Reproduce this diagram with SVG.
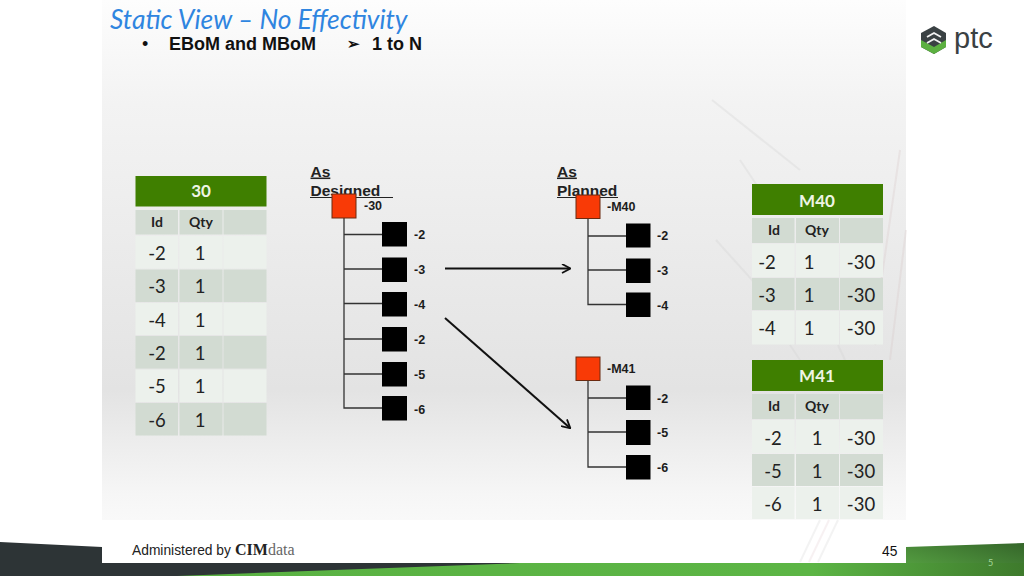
<svg xmlns="http://www.w3.org/2000/svg" width="1024" height="576" viewBox="0 0 1024 576">
<style>
.cal{font-family:Lato,"Open Sans",sans-serif}
.ar{font-family:"Liberation Sans",Arial,sans-serif}
.h{font-size:17px;font-weight:700;fill:#eef5e4;text-anchor:middle}
.c{font-size:14px;font-weight:700;fill:#222;text-anchor:middle}
.t{font-size:18.500px;fill:#222;text-anchor:middle;transform:translateY(.7px)}
.l{fill:#ecf1ec}.d{fill:#d2dbd2}.g{fill:#3f7f00}
.red{fill:#f93a06;stroke:#6b2a10;stroke-width:1}
.blk{fill:#000}
.lbl{font-size:12.500px;font-weight:700;fill:#1c1c1c}
.hd{font-size:15.500px;font-weight:700;fill:#222}
.tree{stroke:#333;stroke-width:1.3;fill:none}
.arrow{stroke:#111;stroke-width:2;fill:none;marker-end:url(#ah)}
.streak{fill:none;stroke-width:2;opacity:.3}
</style>
<defs>
<linearGradient id="bg" x1="0" y1="0" x2="0" y2="1"><stop offset="0" stop-color="#fdfdfd"/><stop offset=".2" stop-color="#f3f3f3"/><stop offset=".75" stop-color="#e3e3e3"/><stop offset=".95" stop-color="#f6f6f6"/><stop offset="1" stop-color="#f9f9f9"/></linearGradient>
<linearGradient id="band" x1="0" y1="0" x2="1" y2="0"><stop offset="0" stop-color="#5ab243"/><stop offset=".75" stop-color="#5cb545"/><stop offset="1" stop-color="#3e7a2c"/></linearGradient>
<linearGradient id="rg" x1="0" y1="1" x2="1" y2="0"><stop offset="0" stop-color="#5aa845"/><stop offset="1" stop-color="#35662a"/></linearGradient>
<marker id="ah" markerWidth="10" markerHeight="10" refX="9" refY="5" orient="auto" markerUnits="userSpaceOnUse"><path d="M1 .5L9.500 5L1 9.500" fill="none" stroke="#111" stroke-width="1.800"/></marker>
</defs>
<rect width="1024" height="576" fill="#fff"/>
<path d="M0 542L102 547V576H0Z" fill="#2d3436"/>
<path d="M906 547L1024 543V576H906Z" fill="url(#rg)"/>
<rect x="0" y="563" width="620" height="13" fill="#2d3436"/>
<path d="M177 576L520 563H1024V576Z" fill="url(#band)"/>
<rect x="102" y="0" width="804" height="563" fill="#fff"/>
<rect x="102" y="0" width="804" height="520" fill="url(#bg)"/>
<g id="streaks">
<path class="streak" stroke="#cfcfcf" d="M740 160L760 190M712 100L800 170M716 240L770 300M790 345L800 360M838 345L845 360"/>
<path class="streak" stroke="#d8c8c8" d="M880 290L900 150M875 345L880 330M890 360L906 230"/>
<path class="streak" stroke="#d6d6d6" d="M820 520L800 562M838 520L818 562"/>
<path class="streak" stroke="#e6d2d4" d="M829 520L809 562"/>
</g>
<text class="cal" x="110" y="29" font-size="26.400" font-style="italic" fill="#2f85e0">Static View – No Effectivity</text>
<g class="ar" font-size="18" font-weight="700" fill="#111">
<text x="142" y="50" font-weight="400">•</text>
<text x="169" y="50">EBoM and MBoM</text>
<text x="347" y="49" font-size="15">➢</text>
<text x="372" y="50">1 to N</text>
</g>
<g id="logo">
<path d="M934 26L946 33V47L934 54L921 47V33Z" fill="#3a4143"/>
<path d="M921 40L934 47L946 40V47L934 54L921 47Z" fill="#5cb040"/>
<path d="M927 37L934 33L941 37M927 43L934 39L941 43" fill="none" stroke="#f3f3f3" stroke-width="1.800"/>
<text class="ar" x="954" y="48" font-size="29" fill="#3a4143">ptc</text>
</g>
<g id="table-30">
<rect class="g" x="135.500" y="176" width="131" height="30.500"/>
<text class="cal h" x="201" y="197">30</text>
<g>
<rect class="d" x="135.500" y="210" width="42.500" height="24.500"/><rect class="d" x="179.500" y="210" width="43" height="24.500"/><rect class="d" x="223.500" y="210" width="43" height="24.500"/>
<rect class="l" x="135.500" y="236" width="42.500" height="32.500"/><rect class="l" x="179.500" y="236" width="43" height="32.500"/><rect class="l" x="223.500" y="236" width="43" height="32.500"/>
<rect class="d" x="135.500" y="269.500" width="42.500" height="32.500"/><rect class="d" x="179.500" y="269.500" width="43" height="32.500"/><rect class="d" x="223.500" y="269.500" width="43" height="32.500"/>
<rect class="l" x="135.500" y="303" width="42.500" height="32"/><rect class="l" x="179.500" y="303" width="43" height="32"/><rect class="l" x="223.500" y="303" width="43" height="32"/>
<rect class="d" x="135.500" y="336" width="42.500" height="32.500"/><rect class="d" x="179.500" y="336" width="43" height="32.500"/><rect class="d" x="223.500" y="336" width="43" height="32.500"/>
<rect class="l" x="135.500" y="369.500" width="42.500" height="32.500"/><rect class="l" x="179.500" y="369.500" width="43" height="32.500"/><rect class="l" x="223.500" y="369.500" width="43" height="32.500"/>
<rect class="d" x="135.500" y="403" width="42.500" height="32.500"/><rect class="d" x="179.500" y="403" width="43" height="32.500"/><rect class="d" x="223.500" y="403" width="43" height="32.500"/>
</g>
<g class="cal">
<text class="c" x="157" y="227">Id</text><text class="c" x="201" y="227">Qty</text>
<text class="t" x="157" y="259">-2</text><text class="t" x="200" y="259">1</text>
<text class="t" x="157" y="292">-3</text><text class="t" x="200" y="292">1</text>
<text class="t" x="157" y="326">-4</text><text class="t" x="200" y="326">1</text>
<text class="t" x="157" y="359">-2</text><text class="t" x="200" y="359">1</text>
<text class="t" x="157" y="392">-5</text><text class="t" x="200" y="392">1</text>
<text class="t" x="157" y="426">-6</text><text class="t" x="200" y="426">1</text>
</g>
</g>
<g id="table-m40">
<rect class="g" x="752" y="184" width="131" height="31"/>
<text class="cal h" x="817" y="207">M40</text>
<rect class="d" x="752" y="218" width="42.500" height="25"/><rect class="d" x="796" y="218" width="43" height="25"/><rect class="d" x="840" y="218" width="43" height="25"/>
<rect class="l" x="752" y="244" width="42.500" height="33"/><rect class="l" x="796" y="244" width="43" height="33"/><rect class="l" x="840" y="244" width="43" height="33"/>
<rect class="d" x="752" y="278" width="42.500" height="32"/><rect class="d" x="796" y="278" width="43" height="32"/><rect class="d" x="840" y="278" width="43" height="32"/>
<rect class="l" x="752" y="311" width="42.500" height="33.500"/><rect class="l" x="796" y="311" width="43" height="33.500"/><rect class="l" x="840" y="311" width="43" height="33.500"/>
<g class="cal">
<text class="c" x="774" y="235">Id</text><text class="c" x="817" y="235">Qty</text>
<text class="t" x="767" y="268">-2</text><text class="t" x="809" y="268">1</text><text class="t" x="861" y="268">-30</text>
<text class="t" x="767" y="301">-3</text><text class="t" x="809" y="301">1</text><text class="t" x="861" y="301">-30</text>
<text class="t" x="767" y="334">-4</text><text class="t" x="809" y="334">1</text><text class="t" x="861" y="334">-30</text>
</g>
</g>
<g id="table-m41">
<rect class="g" x="752" y="360" width="131" height="31"/>
<text class="cal h" x="817" y="382">M41</text>
<rect class="d" x="752" y="394" width="42.500" height="25"/><rect class="d" x="796" y="394" width="43" height="25"/><rect class="d" x="840" y="394" width="43" height="25"/>
<rect class="l" x="752" y="420" width="42.500" height="33"/><rect class="l" x="796" y="420" width="43" height="33"/><rect class="l" x="840" y="420" width="43" height="33"/>
<rect class="d" x="752" y="454" width="42.500" height="32"/><rect class="d" x="796" y="454" width="43" height="32"/><rect class="d" x="840" y="454" width="43" height="32"/>
<rect class="l" x="752" y="487" width="42.500" height="32"/><rect class="l" x="796" y="487" width="43" height="32"/><rect class="l" x="840" y="487" width="43" height="32"/>
<g class="cal">
<text class="c" x="774" y="411">Id</text><text class="c" x="817" y="411">Qty</text>
<text class="t" x="773" y="444">-2</text><text class="t" x="817" y="444">1</text><text class="t" x="861" y="444">-30</text>
<text class="t" x="773" y="477">-5</text><text class="t" x="817" y="477">1</text><text class="t" x="861" y="477">-30</text>
<text class="t" x="773" y="510">-6</text><text class="t" x="817" y="510">1</text><text class="t" x="861" y="510">-30</text>
</g>
</g>
<g id="connectors">
<path class="tree" d="M344 218V408H382M344 234.500H382M344 269H382M344 303.500H382M344 339H382M344 374H382"/>
<path class="tree" d="M588 218V304.500H626M588 236H626M588 270H626"/>
<path class="tree" d="M588 380V467H626M588 398H626M588 432H626"/>
<path class="arrow" d="M445 268.500H570"/>
<path class="arrow" d="M445 318L570 428"/>
</g>
<g id="head-designed" class="ar">
<text class="hd" x="310.500" y="176.500" text-decoration="underline">As</text>
<text class="hd" x="310.500" y="195.500">Designed</text>
<path d="M310 197.500H393" stroke="#222" stroke-width="1"/>
</g>
<g id="head-planned" class="ar">
<text class="hd" x="557" y="176.500" text-decoration="underline">As</text>
<text class="hd" x="557" y="195.500">Planned</text>
<path d="M557 197.500H618" stroke="#222" stroke-width="1"/>
</g>
<g id="node-30"><rect class="red" x="332" y="194" width="24" height="24"/><text class="ar lbl" x="364" y="210">-30</text></g>
<g id="node-2a"><rect class="blk" x="382" y="222" width="25" height="24.500"/><text class="ar lbl" x="414" y="239">-2</text></g>
<g id="node-3a"><rect class="blk" x="382" y="257.500" width="25" height="24.500"/><text class="ar lbl" x="414" y="274">-3</text></g>
<g id="node-4a"><rect class="blk" x="382" y="292" width="25" height="24.500"/><text class="ar lbl" x="414" y="309">-4</text></g>
<g id="node-2b"><rect class="blk" x="382" y="327" width="25" height="24.500"/><text class="ar lbl" x="414" y="344">-2</text></g>
<g id="node-5a"><rect class="blk" x="382" y="362" width="25" height="24.500"/><text class="ar lbl" x="414" y="379">-5</text></g>
<g id="node-6a"><rect class="blk" x="382" y="396" width="25" height="24.500"/><text class="ar lbl" x="414" y="414">-6</text></g>
<g id="node-m40"><rect class="red" x="576" y="195" width="24" height="23.500"/><text class="ar lbl" x="607" y="211">-M40</text></g>
<g id="node-2c"><rect class="blk" x="626" y="223.500" width="24.500" height="24"/><text class="ar lbl" x="657" y="240">-2</text></g>
<g id="node-3c"><rect class="blk" x="626" y="258.500" width="24.500" height="24.500"/><text class="ar lbl" x="657" y="275">-3</text></g>
<g id="node-4c"><rect class="blk" x="626" y="292.500" width="24.500" height="24.500"/><text class="ar lbl" x="657" y="310">-4</text></g>
<g id="node-m41"><rect class="red" x="576" y="357" width="24" height="23.500"/><text class="ar lbl" x="607" y="373">-M41</text></g>
<g id="node-2d"><rect class="blk" x="626" y="385.500" width="24.500" height="24.500"/><text class="ar lbl" x="657" y="403">-2</text></g>
<g id="node-5d"><rect class="blk" x="626" y="420" width="24.500" height="25"/><text class="ar lbl" x="657" y="437">-5</text></g>
<g id="node-6d"><rect class="blk" x="626" y="455" width="24.500" height="24.500"/><text class="ar lbl" x="657" y="472">-6</text></g>
<text class="ar" x="132" y="555" font-size="13.800" fill="#222">Administered by</text>
<text x="235" y="555" font-family="'Liberation Serif',serif" font-size="16" font-weight="700" fill="#222">CIM<tspan font-weight="400" fill="#666">data</tspan></text>
<text class="ar" x="882" y="556" font-size="13.800" fill="#111">45</text>
<text class="cal" x="988" y="566" font-size="9" fill="#a5d89a">5</text>
</svg>
